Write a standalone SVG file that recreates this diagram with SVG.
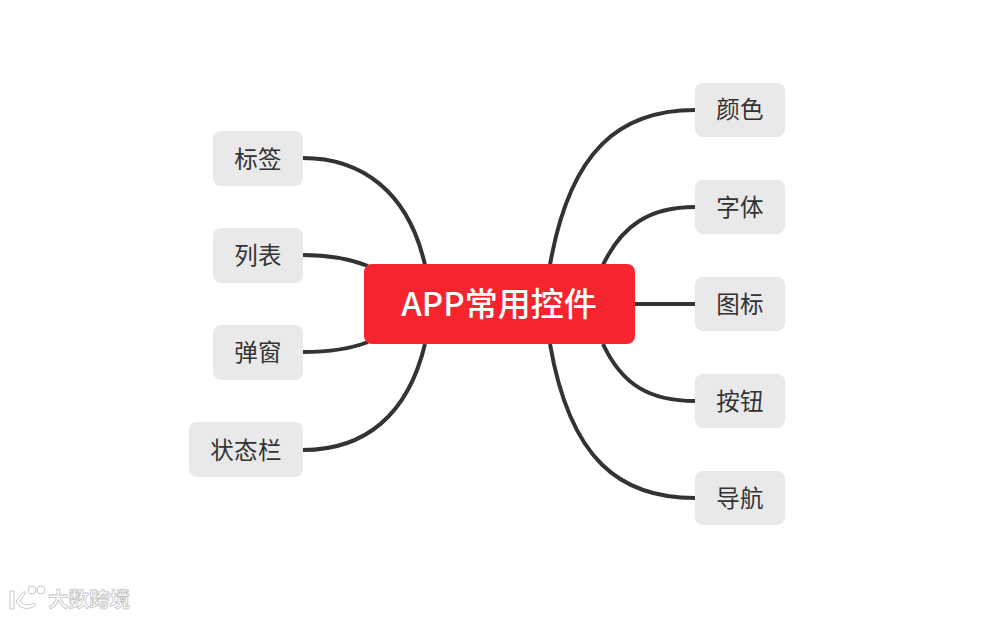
<svg xmlns="http://www.w3.org/2000/svg" width="1000" height="618" viewBox="0 0 1000 618">
<style>
.n rect{fill:#e9e9e9}
.n text{font-family:"Noto Sans CJK SC","Noto Sans",sans-serif;font-size:23.5px;fill:#333;text-anchor:middle;letter-spacing:0.3px}
#connectors path{fill:none;stroke:#333;stroke-width:4}
.wm{fill:#fff;stroke:#c8c8c8;stroke-width:1}
</style>
<rect width="1000" height="618" fill="#fff"/>
<g id="connectors">
<path d="M303 158C360 158 408 190 425 265"/>
<path d="M303 255C330 255 350 259 368 266"/>
<path d="M303 352C330 352 350 349 368 342"/>
<path d="M303 450C365 450 408 415 425 344"/>
<path d="M695 110C620 110 570 150 550 265"/>
<path d="M695 207C650 207 622 225 603 265"/>
<path d="M635 304H695"/>
<path d="M695 401C650 401 622 385 603 344"/>
<path d="M695 498C620 498 570 460 550 344"/>
</g>
<g id="center" class="n"><rect x="364" y="264" width="271" height="80" rx="8" style="fill:#f5242f"/><text x="499" y="316" style="font-size:33px;fill:#fff;font-weight:500;letter-spacing:0">APP常用控件</text></g>
<g id="n-biaoqian" class="n"><rect x="213" y="131" width="90" height="55" rx="8"/><text x="258" y="168">标签</text></g>
<g id="n-liebiao" class="n"><rect x="213" y="228" width="90" height="55" rx="8"/><text x="258" y="264">列表</text></g>
<g id="n-tanchuang" class="n"><rect x="213" y="325" width="90" height="55" rx="8"/><text x="258" y="361">弹窗</text></g>
<g id="n-zhuangtai" class="n"><rect x="189" y="422" width="114" height="55" rx="8"/><text x="246" y="459">状态栏</text></g>
<g id="n-yanse" class="n"><rect x="695" y="83" width="90" height="54" rx="8"/><text x="740" y="118">颜色</text></g>
<g id="n-ziti" class="n"><rect x="695" y="180" width="90" height="54" rx="8"/><text x="740" y="216">字体</text></g>
<g id="n-tubiao" class="n"><rect x="695" y="277" width="90" height="54" rx="8"/><text x="740" y="313">图标</text></g>
<g id="n-anniu" class="n"><rect x="695" y="374" width="90" height="54" rx="8"/><text x="740" y="410">按钮</text></g>
<g id="n-daohang" class="n"><rect x="695" y="471" width="90" height="54" rx="8"/><text x="740" y="507">导航</text></g>
<g id="watermark">
<path class="wm" d="M10 591h4v18h-4zM16 601l7-9h3l-6 9c3 4 9 5 14 2l2 2c-7 6-17 4-20-4z"/>
<circle class="wm" cx="32" cy="590" r="4"/><circle class="wm" cx="41" cy="590" r="4"/>
<text x="48" y="607" style="font-family:'Noto Sans CJK SC',sans-serif;font-size:20.5px;font-weight:700;fill:#fff;stroke:#c4c4c4;stroke-width:0.8">大数跨境</text>
</g>
</svg>
